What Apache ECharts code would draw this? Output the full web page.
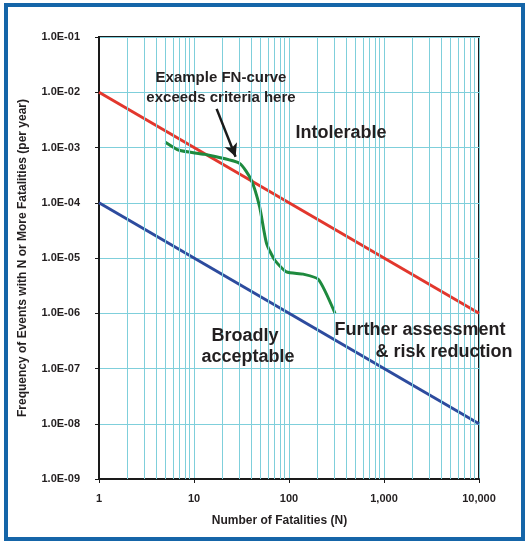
<!DOCTYPE html>
<html>
<head>
<meta charset="utf-8">
<script src="https://cdn.jsdelivr.net/npm/echarts@6/dist/echarts.min.js"></script>
<style>
  html, body { margin: 0; padding: 0; background: #fff; }
  #chart { width: 530px; height: 544px; }
</style>
</head>
<body>
<div id="chart"></div>
<script>
// criteria lines (N, frequency)
var limitN = [1, 10000];
var upperLimit = [1e-2, 1e-6];   // intolerable boundary
var lowerLimit = [1e-4, 1e-8];   // broadly acceptable boundary

// example FN-curve
var fnN = [5, 7, 13, 30, 40, 49, 58, 71, 94, 141, 204, 305];
var fnFreq = [1.25e-3, 8.9e-4, 7.5e-4, 5.2e-4, 2.6e-4, 8.5e-5, 1.84e-5, 9.1e-6, 5.6e-6, 5.1e-6, 4.1e-6, 1.0e-6];

// minor vertical grid lines
var minorN = [2, 3, 4, 5, 6, 7, 8, 9,
              20, 30, 40, 50, 60, 70, 80, 90,
              200, 300, 400, 500, 600, 700, 800, 900,
              2000, 3000, 4000, 5000, 6000, 7000, 8000, 9000];

// arrow from label to curve
var arrowFrom = [17.3, 5.0e-3];
var arrowTo = [27.4, 6.8e-4];

var gridColor = '#7fcfdb';
var inkColor = '#231f20';

var pair = function(xs, ys){
	return xs.map(function(x, i){ return [x, ys[i]]; });
};

var fmtY = function(v){
	var e = Math.round(Math.log10(v));
	var s = Math.abs(e) < 10 ? '0' + Math.abs(e) : '' + Math.abs(e);
	return '1.0E' + (e < 0 ? '-' : '+') + s;
};

var myChart = echarts.init(document.getElementById('chart'));

var option = {
	animation: false,
	grid: {
		left: 99, right: 51, top: 37, bottom: 65,
		show: true, borderColor: '#1a1a1a', borderWidth: 2,
		backgroundColor: 'transparent'
	},
	xAxis: {
		type: 'log', logBase: 10, min: 1, max: 10000, splitNumber: 4,
		name: 'Number of Fatalities (N)', nameLocation: 'middle', nameGap: 36,
		nameTextStyle: { fontFamily: 'Liberation Sans', fontWeight: 'bold', fontSize: 12, color: inkColor, padding: [0, 19, 0, 0] },
		axisLine: { lineStyle: { color: '#1a1a1a', width: 2 } },
		axisTick: { show: true, length: 4, lineStyle: { color: '#1a1a1a' } },
		axisLabel: {
			margin: 14, fontFamily: 'Liberation Sans', fontWeight: 'bold', fontSize: 11, color: inkColor,
			formatter: function(v){ return Math.round(v).toLocaleString('en-US'); }
		},
		splitLine: { show: true, lineStyle: { color: gridColor, width: 1 } }
	},
	yAxis: {
		type: 'log', logBase: 10, min: 1e-9, max: 1e-1, splitNumber: 8,
		name: 'Frequency of Events with N or More Fatalities (per year)',
		nameLocation: 'middle', nameGap: 70, nameRotate: 90,
		nameTextStyle: { fontFamily: 'Liberation Sans', fontWeight: 'bold', fontSize: 12, color: inkColor },
		axisLine: { show: true, lineStyle: { color: '#1a1a1a', width: 2 } },
		axisTick: { show: true, length: 4, lineStyle: { color: '#1a1a1a' } },
		axisLabel: {
			margin: 19, fontFamily: 'Liberation Sans', fontWeight: 'bold', fontSize: 11, color: inkColor,
			formatter: fmtY
		},
		splitLine: { show: true, lineStyle: { color: gridColor, width: 1 } }
	},
	graphic: [
		{ type: 'rect', shape: { x: 6, y: 5, width: 517, height: 534 },
		  style: { fill: 'none', stroke: '#1565a8', lineWidth: 4 }, z: 100 },
		{ type: 'text', x: 221, y: 78, style: { text: 'Example FN-curve', font: 'bold 15px "Liberation Sans"', fill: inkColor, align: 'center', verticalAlign: 'middle' }, z: 50 },
		{ type: 'text', x: 221, y: 98, style: { text: 'exceeds criteria here', font: 'bold 15px "Liberation Sans"', fill: inkColor, align: 'center', verticalAlign: 'middle' }, z: 50 },
		{ type: 'text', x: 341, y: 133, style: { text: 'Intolerable', font: 'bold 18px "Liberation Sans"', fill: inkColor, align: 'center', verticalAlign: 'middle' }, z: 50 },
		{ type: 'text', x: 245, y: 336, style: { text: 'Broadly', font: 'bold 18px "Liberation Sans"', fill: inkColor, align: 'center', verticalAlign: 'middle' }, z: 50 },
		{ type: 'text', x: 248, y: 357, style: { text: 'acceptable', font: 'bold 18px "Liberation Sans"', fill: inkColor, align: 'center', verticalAlign: 'middle' }, z: 50 },
		{ type: 'text', x: 420, y: 330, style: { text: 'Further assessment', font: 'bold 18px "Liberation Sans"', fill: inkColor, align: 'center', verticalAlign: 'middle' }, z: 50 },
		{ type: 'text', x: 444, y: 352, style: { text: '& risk reduction', font: 'bold 18px "Liberation Sans"', fill: inkColor, align: 'center', verticalAlign: 'middle' }, z: 50 }
	],
	series: [
		{
			// minor grid
			name: 'minor', type: 'line', data: [], z: 1, silent: true,
			markLine: {
				silent: true, symbol: ['none', 'none'], label: { show: false },
				lineStyle: { color: gridColor, width: 1, type: 'solid' },
				data: minorN.map(function(n){ return { xAxis: n }; })
			}
		},
		{
			name: 'Upper', type: 'line', data: pair(limitN, upperLimit), z: 3,
			symbol: 'none', lineStyle: { color: '#e2372d', width: 3 }
		},
		{
			name: 'Lower', type: 'line', data: pair(limitN, lowerLimit), z: 3,
			symbol: 'none', lineStyle: { color: '#2d4b9e', width: 3 }
		},
		{
			name: 'FN', type: 'line', data: pair(fnN, fnFreq), z: 4,
			symbol: 'none', smooth: 0.2,
			lineStyle: { color: '#1e8a3e', width: 3 }
		},
		{
			name: 'arrow', type: 'line', data: [], z: 5, silent: true,
			markLine: {
				silent: true, symbol: ['none', 'arrow'], symbolSize: [10, 13], label: { show: false },
				lineStyle: { color: '#1a1a1a', width: 2.5, type: 'solid' },
				data: [[{ coord: arrowFrom }, { coord: arrowTo }]]
			}
		}
	]
};
myChart.setOption(option);
</script>
</body>
</html>
